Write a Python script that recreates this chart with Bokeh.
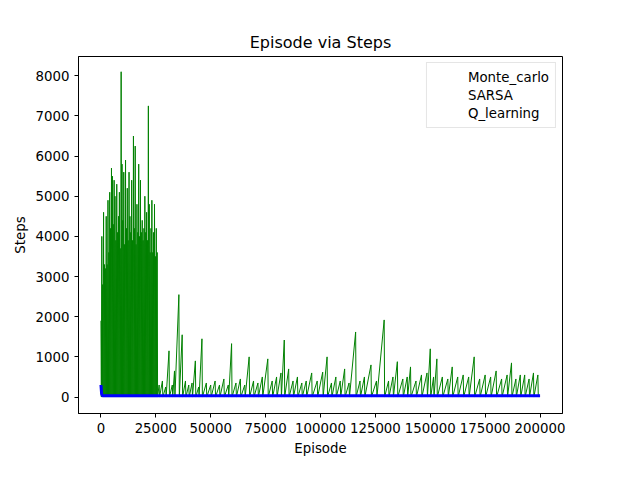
from bokeh.plotting import figure
from bokeh.models import Legend, LegendItem, FixedTicker
from bokeh.embed import file_html
from bokeh.resources import INLINE

# SARSA, early dense block: peaks every 400 episodes
early_x = list(range(0, 26000, 400))
early_peaks = [1900, 4000, 2800, 4600, 3300, 3200, 4500, 3300, 4900, 3600,
               5100, 4200, 5700, 5500, 4300, 5400, 5000, 3900, 5300, 4100,
               4500, 5100, 3700, 8100, 5800, 4400, 5600, 3800, 5900, 4200,
               5200, 3900, 5600, 4500, 4100, 5400, 3900, 6500, 4200, 6250,
               3800, 4800, 4100, 5800, 4000, 5400, 4100, 4400, 3900, 4200,
               5000, 4100, 4600, 3900, 7250, 4800, 3600, 4200, 4900, 3600,
               4100, 4800, 3500, 4200, 3600]

# SARSA, later sparse spikes
late_x = [26500, 28000, 29500, 31000, 32500, 33500, 35500, 37000, 38500, 40000,
          41500, 43000, 44500, 46000, 48000, 50000, 52000, 54000, 56000, 58000,
          59500, 61500, 63500, 65500, 67500, 69500, 71500, 73500, 76000, 78000,
          80000, 82000, 83500, 85500, 87500, 89500, 91500, 93500, 96000, 98500,
          101000, 103000, 105000, 107000, 109000, 111000, 113000, 116000, 118000, 120000,
          123000, 125500, 129000, 131000, 133000, 135000, 137500, 139500, 141000, 143500,
          146000, 148500, 150000, 151500, 153000, 155500, 158000, 160000, 162500, 165000,
          167500, 170000, 172500, 175000, 177500, 180000, 182500, 185000, 187000, 189000,
          191000, 193000, 195000, 197000, 199000]
late_peaks = [300, 400, 250, 1150, 300, 650, 2550, 1550, 400, 300,
              350, 900, 250, 1450, 350, 300, 400, 300, 450, 300,
              1330, 350, 450, 300, 1000, 400, 350, 500, 950, 400,
              500, 600, 1420, 700, 400, 500, 350, 400, 600, 400,
              620, 1000, 350, 500, 400, 700, 350, 1620, 400, 500,
              800, 400, 1920, 400, 500, 880, 450, 500, 750, 400,
              550, 600, 1200, 500, 950, 500, 450, 750, 500, 550,
              500, 1000, 450, 550, 500, 650, 450, 550, 850, 450,
              550, 550, 450, 600, 550]

q_x = [0, 300, 600, 1000, 2000, 5000, 200000]
q_y = [300, 80, 40, 30, 30, 30, 30]
mc_x = [0, 1000, 200000]
mc_y = [40, 20, 20]

sx, sy = [], []
for x, y in zip(early_x + late_x, early_peaks + late_peaks):
    sx += [x, x + 200]
    sy += [y, 0]

p = figure(width=624, height=464, output_backend="svg", toolbar_location=None,
           x_range=(-10222, 210222), y_range=(-410, 8480),
           title="Episode via Steps", x_axis_label="Episode", y_axis_label="Steps",
           min_border_left=78, min_border_right=62, min_border_top=56, min_border_bottom=51)

p.line(mc_x, mc_y, color="red", line_width=1)
p.line(sx, sy, color="green", line_width=1)
p.line(q_x, q_y, color="blue", line_width=3)

# legend-only glyphs with matplotlib-like thin lines
k_mc = p.line([], [], color="red", line_width=1)
k_s = p.line([], [], color="green", line_width=1)
k_q = p.line([], [], color="blue", line_width=1)

leg = Legend(items=[LegendItem(label="Monte_carlo", renderers=[k_mc]),
                    LegendItem(label="SARSA", renderers=[k_s]),
                    LegendItem(label="Q_learning", renderers=[k_q])],
             location="top_right", label_text_font="DejaVu Sans", label_text_font_size="10pt",
             label_text_color="black", border_line_color="#cccccc",
             glyph_height=16, glyph_width=30, spacing=2, padding=6, margin=6)
p.add_layout(leg)

p.title.align = "center"
p.title.text_font = "DejaVu Sans"
p.title.text_font_style = "normal"
p.title.text_font_size = "12pt"
p.title.text_color = "black"
p.xaxis.ticker = FixedTicker(ticks=list(range(0, 200001, 25000)))
p.yaxis.ticker = FixedTicker(ticks=list(range(0, 8001, 1000)))
p.xaxis.formatter.use_scientific = False
for ax in p.axis:
    ax.axis_label_text_font = "DejaVu Sans"
    ax.axis_label_text_font_style = "normal"
    ax.axis_label_text_font_size = "10pt"
    ax.axis_label_text_color = "black"
    ax.major_label_text_font = "DejaVu Sans"
    ax.major_label_text_font_size = "10pt"
    ax.major_label_text_color = "black"
    ax.axis_line_color = "black"
    ax.major_tick_line_color = "black"
    ax.minor_tick_line_color = None
    ax.major_tick_out = 4
    ax.major_tick_in = 0
p.grid.grid_line_color = None
p.outline_line_color = "black"

open("out.html", "w").write(file_html(p, INLINE))
